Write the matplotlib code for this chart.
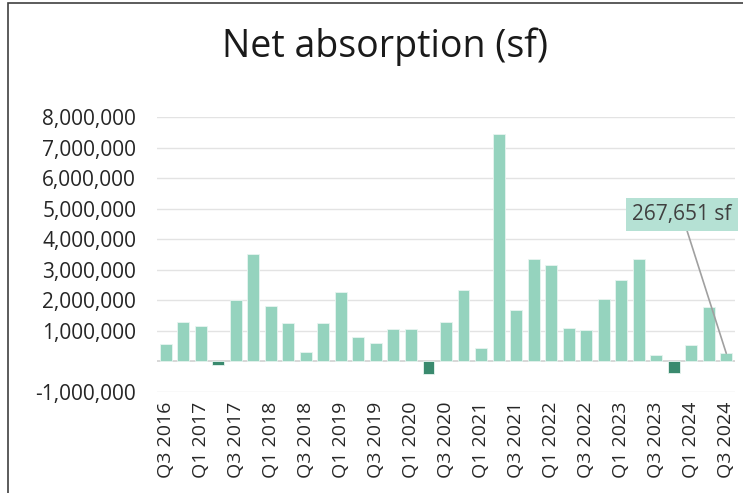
import matplotlib
matplotlib.use("Agg")
import matplotlib.pyplot as plt
from matplotlib.patches import Rectangle
from matplotlib.ticker import FuncFormatter

plt.rcParams["font.family"] = ["Open Sans", "DejaVu Sans"]

quarters = [
    "Q3 2016", "Q4 2016", "Q1 2017", "Q2 2017", "Q3 2017", "Q4 2017",
    "Q1 2018", "Q2 2018", "Q3 2018", "Q4 2018", "Q1 2019", "Q2 2019",
    "Q3 2019", "Q4 2019", "Q1 2020", "Q2 2020", "Q3 2020", "Q4 2020",
    "Q1 2021", "Q2 2021", "Q3 2021", "Q4 2021", "Q1 2022", "Q2 2022",
    "Q3 2022", "Q4 2022", "Q1 2023", "Q2 2023", "Q3 2023", "Q4 2023",
    "Q1 2024", "Q2 2024", "Q3 2024",
]
absorption = [
    580000, 1280000, 1170000, -120000, 2010000, 3530000,
    1810000, 1250000, 310000, 1270000, 2280000, 800000,
    620000, 1060000, 1060000, -420000, 1280000, 2340000,
    440000, 7450000, 1700000, 3340000, 3150000, 1090000,
    1030000, 2040000, 2670000, 3340000, 220000, -370000,
    540000, 1780000, 267651,
]
y_ticks = [-1000000, 1000000, 2000000, 3000000, 4000000,
           5000000, 6000000, 7000000, 8000000]

pos_color = "#95d3be"
neg_color = "#3a8a6e"

fig = plt.figure(figsize=(7.43, 4.93), dpi=100)
ax = fig.add_axes([157 / 743, 101 / 493, 578 / 743, 275 / 493])

x = list(range(len(quarters)))
colors = [pos_color if v >= 0 else neg_color for v in absorption]
ax.bar(x, absorption, width=0.68, color=colors, edgecolor="#e8f5f0",
       linewidth=0.6, zorder=3)

ax.set_xlim(-0.5, len(quarters) - 0.5)
ax.set_ylim(-1000000, 8000000)
ax.set_yticks(y_ticks)
ax.yaxis.set_major_formatter(FuncFormatter(lambda v, p: f"{v:,.0f}"))
ax.grid(axis="y", color="#e3e3e3", linewidth=1, zorder=0)
ax.axhline(0, color="#d4d4d4", linewidth=1.3, zorder=2)

ax.set_xticks(x[::2])
ax.set_xticklabels(quarters[::2], rotation=90, va="top")
ax.tick_params(axis="x", length=0, pad=7, labelsize=14, labelcolor="#262626")
ax.tick_params(axis="y", length=0, pad=15, labelsize=15, labelcolor="#262626")
for s in ax.spines.values():
    s.set_visible(False)

fig.text(385 / 743, 1 - 47 / 493, "Net absorption (sf)", fontsize=27,
         color="#1a1a1a", ha="center", va="center")

# callout for the latest quarter
last = len(absorption) - 1
ax.annotate(f"{absorption[last]:,} sf", xy=(last, absorption[last]),
            xytext=(-32, 100), textcoords="offset points", ha="center",
            va="center", fontsize=15, color="#404040",
            bbox=dict(boxstyle="square,pad=0.3", fc="#b5e1d4", ec="none"),
            arrowprops=dict(arrowstyle="-", color="#a0a0a0", lw=1.2,
                            shrinkA=0, shrinkB=0),
            zorder=5, annotation_clip=False)

# outer frame
fig.patches.append(Rectangle((8 / 743, -0.1), 1.2, 1.1 - 3 / 493,
                             transform=fig.transFigure, fill=False,
                             ec="#404040", lw=1.2))

fig.savefig("out.png", dpi=100)
